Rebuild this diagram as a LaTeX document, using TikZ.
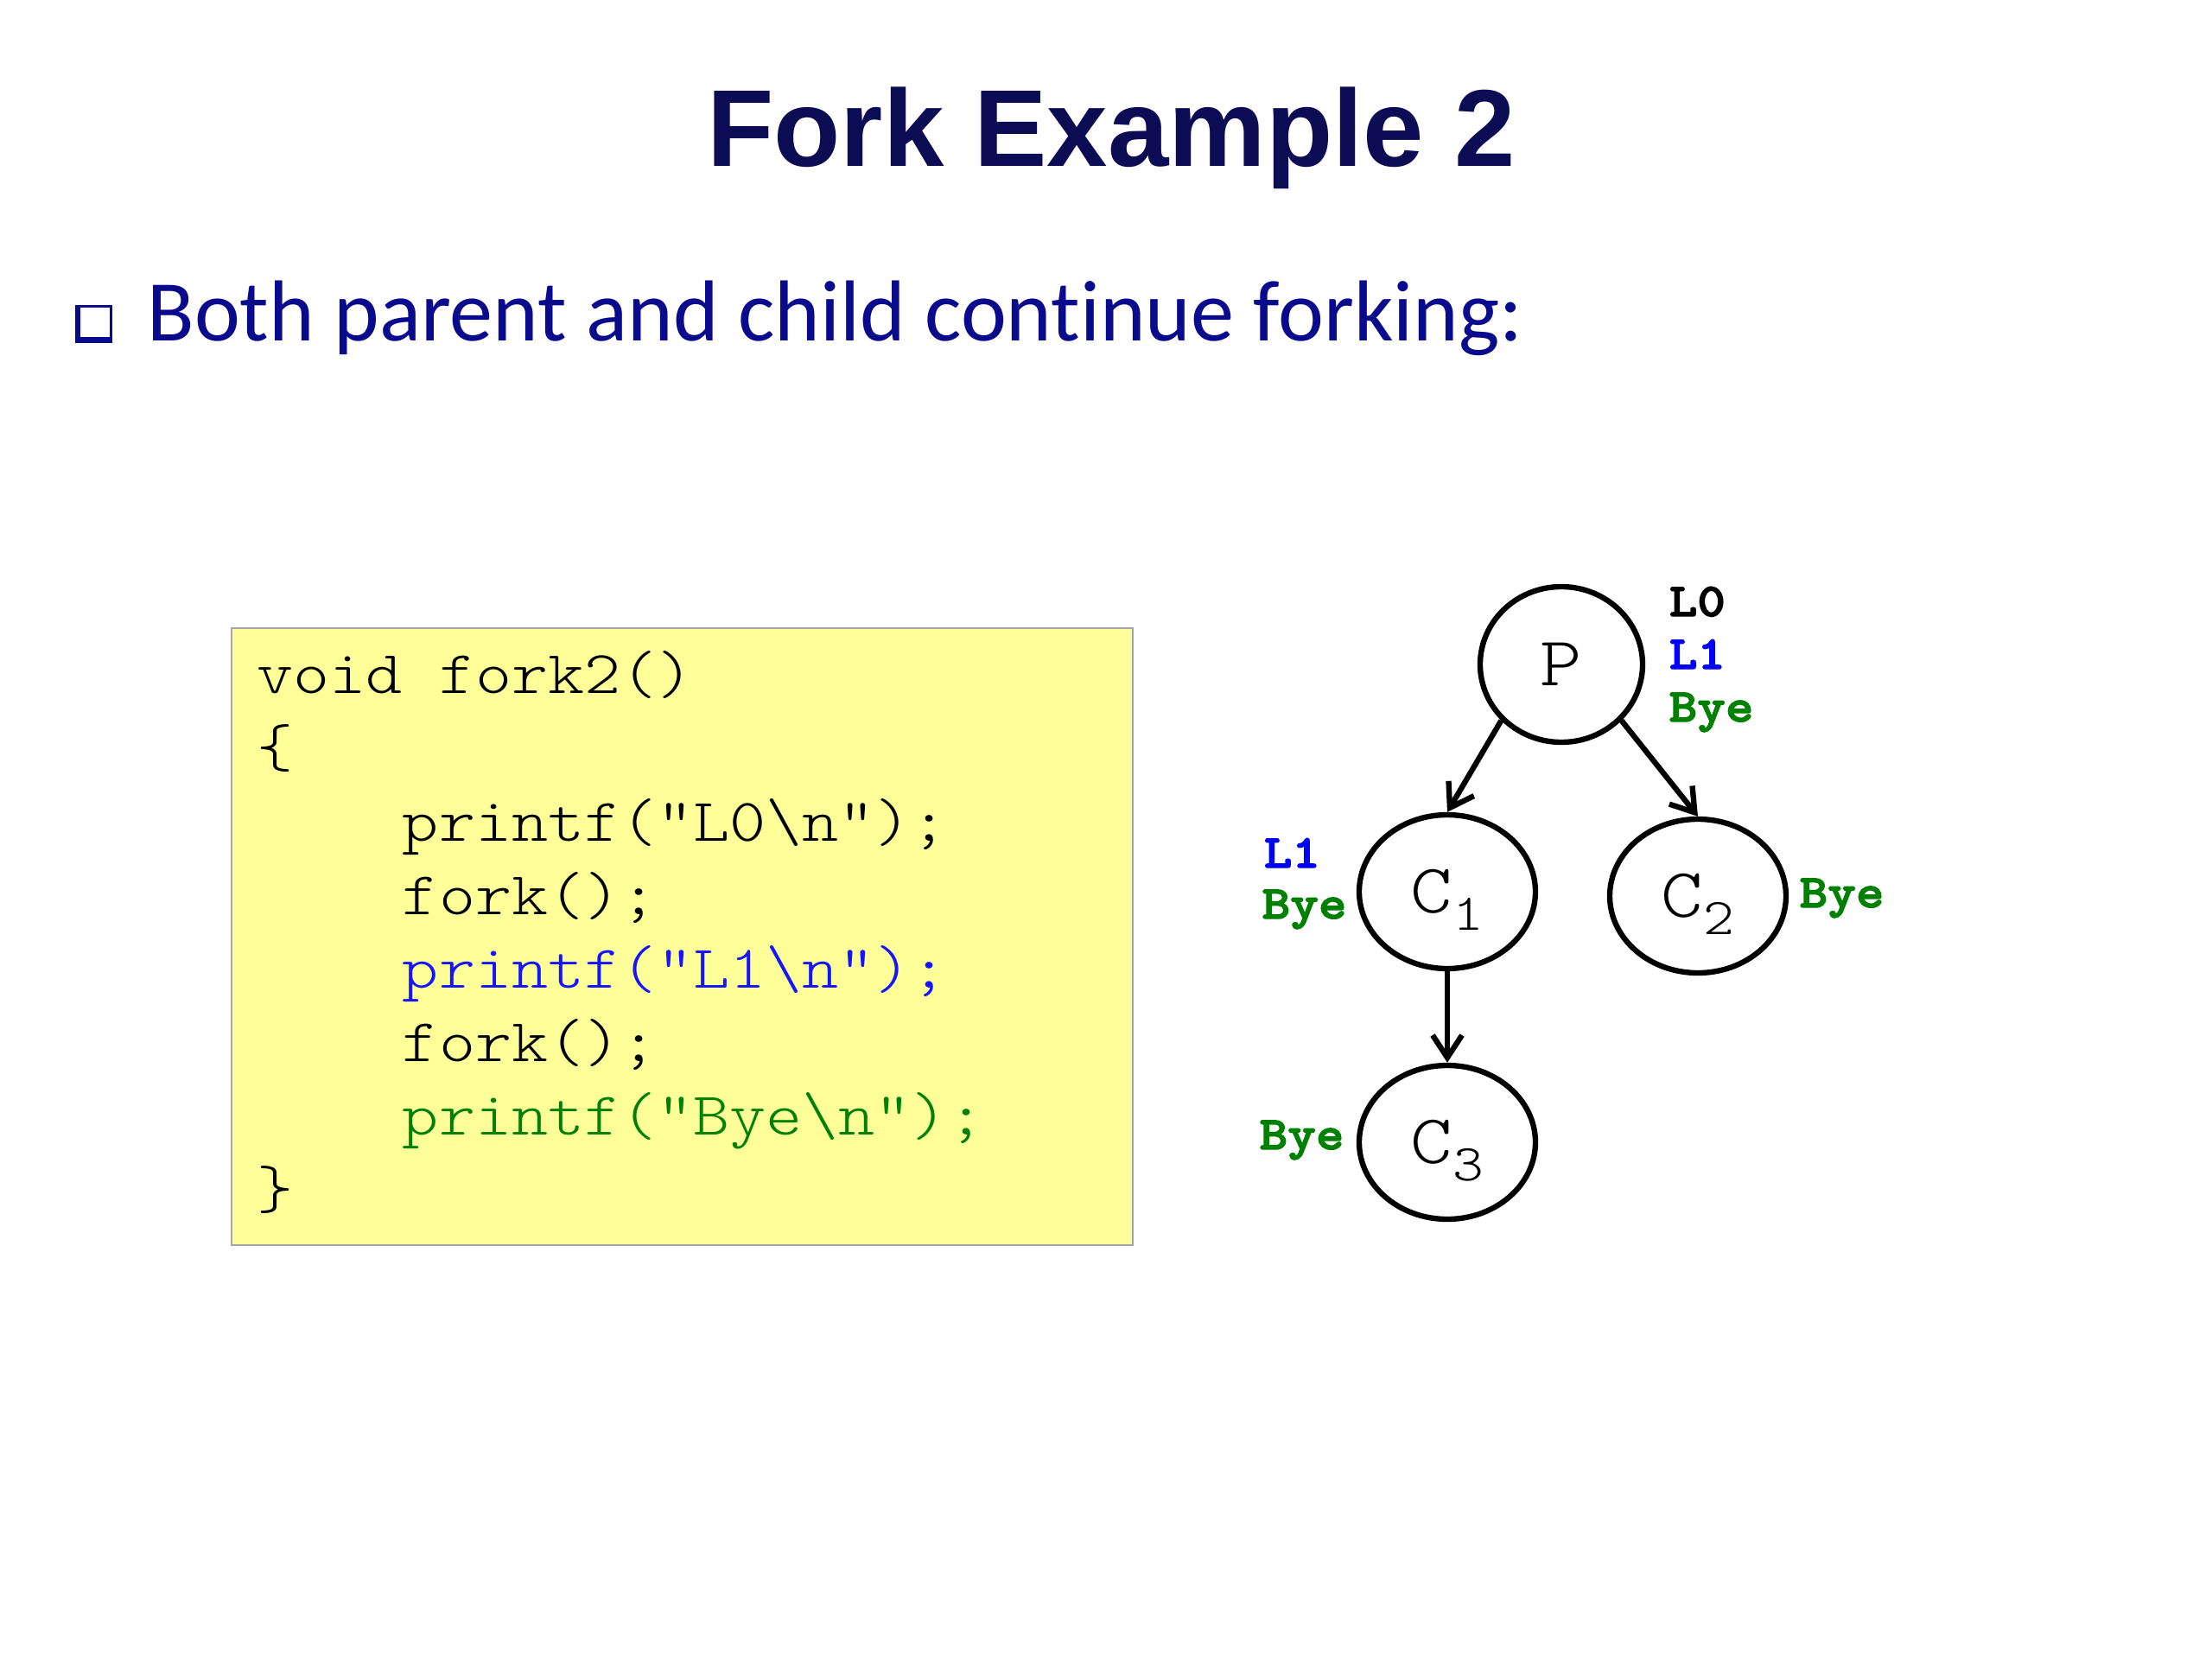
\documentclass[tikz,border=0pt]{standalone}
\usepackage{fontspec}
\usetikzlibrary{shapes.geometric,arrows.meta}
\setmainfont{Liberation Sans}
\newfontfamily\titlefont{Liberation Sans}
\newfontfamily\bulletfont{Carlito}[Ligatures=NoCommon]
\newfontfamily\codefont{lmmonolt10-regular.otf}[FakeStretch=1.14]
\newfontfamily\labelfont{lmmonolt10-bold.otf}[FakeStretch=1.14,FakeBold=2.5]
\definecolor{titleblue}{RGB}{12,12,85}
\definecolor{textblue}{RGB}{10,10,140}
\definecolor{codeyellow}{RGB}{255,255,153}
\definecolor{codeblue}{RGB}{20,20,255}
\definecolor{codegreen}{RGB}{0,128,0}
\newcommand{\lsub}[1]{\raisebox{-5.7pt}[0pt][0pt]{\fontsize{17}{17}\selectfont #1}}
\newcommand{\einzug}{\hphantom{0000}}

\begin{document}
\begin{tikzpicture}[
	knoten/.style={ellipse,draw,line width=1.8pt,inner sep=0pt,font=\codefont\fontsize{23}{23}\selectfont},
	pfeil/.style={line width=1.8pt,-{Straight Barb[length=0.26cm,width=0.34cm]}},
	ausgabe/.style={anchor=base west,inner sep=0pt,font=\labelfont\fontsize{15.5}{15.5}\selectfont},
	zeile/.style={anchor=base west,inner sep=0pt,font=\codefont\fontsize{20}{20}\selectfont}]

	\useasboundingbox (0,0) rectangle (25.6,-19.2);
	\fill[white] (0,0) rectangle (25.6,-19.2);

	%Titel
	\node (titel) [titleblue,anchor=base,inner sep=0pt,font=\titlefont\bfseries\fontsize{36}{36}\selectfont] at (12.86,-1.93) {Fork Example 2};

	%Aufzaehlung
	\fill[textblue] (0.87,-3.53) rectangle (1.30,-3.97);
	\fill[white] (0.93,-3.56) rectangle (1.27,-3.90);
	\node (punkt) [textblue,anchor=base west,inner sep=0pt,font=\bulletfont\fontsize{28.5}{28.5}\selectfont] at (1.70,-3.95) {Both parent and child continue forking:};

	%Code-Kasten
	\filldraw[fill=codeyellow,draw=black!35,line width=0.6pt] (2.68,-7.27) rectangle (13.11,-14.41);

	\node (z1) [zeile] at (2.97,-8.02) {void fork2()};
	\node (z2) [zeile] at (2.97,-8.87) {\{};
	\node (z3) [zeile] at (2.97,-9.73) {\einzug printf("L0\textbackslash n");};
	\node (z4) [zeile] at (2.97,-10.58) {\einzug fork();};
	\node (z5) [zeile,codeblue] at (2.97,-11.43) {\einzug printf("L1\textbackslash n");};
	\node (z6) [zeile] at (2.97,-12.28) {\einzug fork();};
	\node (z7) [zeile,codegreen] at (2.97,-13.13) {\einzug printf("Bye\textbackslash n");};
	\node (z8) [zeile] at (2.97,-13.98) {\}};

	%Prozessbaum
	\node (P) [knoten,minimum width=1.88cm,minimum height=1.80cm] at (18.07,-7.69) {P};
	\node (C1) [knoten,minimum width=2.04cm,minimum height=1.78cm] at (16.75,-10.32) {C\lsub{1}};
	\node (C2) [knoten,minimum width=2.04cm,minimum height=1.78cm] at (19.65,-10.37) {C\lsub{2}};
	\node (C3) [knoten,minimum width=2.04cm,minimum height=1.78cm] at (16.75,-13.22) {C\lsub{3}};

	\draw[pfeil] (P.223) -- (C1.north);
	\draw[pfeil] (P.317) -- (C2.north);
	\draw[pfeil] (C1.south) -- (C3.north);

	%Ausgaben
	\node (p0) [ausgabe] at (19.31,-7.13) {L0};
	\node (p1) [ausgabe,blue] at (19.31,-7.74) {L1};
	\node (p2) [ausgabe,codegreen] at (19.31,-8.35) {Bye};

	\node (c1a) [ausgabe,blue] at (14.62,-10.04) {L1};
	\node (c1b) [ausgabe,codegreen] at (14.60,-10.63) {Bye};
	\node (c2a) [ausgabe,codegreen] at (20.82,-10.50) {Bye};
	\node (c3a) [ausgabe,codegreen] at (14.57,-13.30) {Bye};

\end{tikzpicture}
\end{document}
